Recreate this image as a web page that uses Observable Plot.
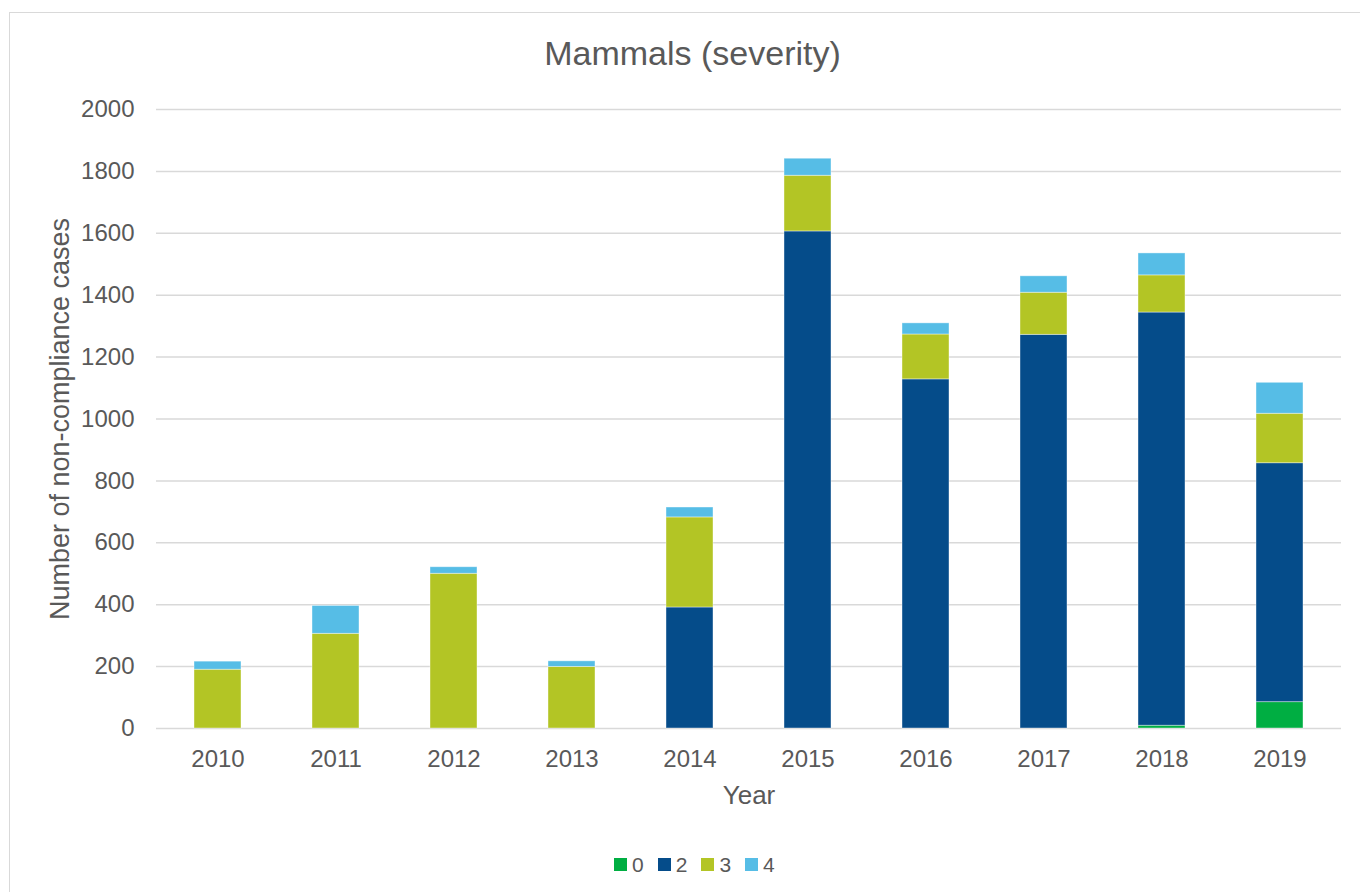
<!DOCTYPE html>
<html><head><meta charset="utf-8">
<script src="https://cdn.jsdelivr.net/npm/d3@7"></script>
<script src="https://cdn.jsdelivr.net/npm/@observablehq/plot@0.6"></script>
<style>
body{margin:0;background:#fff;font-family:"Liberation Sans",Arial,sans-serif;}
#wrap{position:relative;width:1360px;height:892px;overflow:hidden;background:#fff;}
#frame{position:absolute;left:9px;top:12px;width:1400px;height:900px;border:1.5px solid #d9d9d9;box-sizing:border-box;}
#title{position:absolute;left:0;top:36px;width:1385px;text-align:center;font-size:34px;line-height:1;color:#595959;}
#chart{position:absolute;left:0;top:80px;}
#legend{position:absolute;left:614px;top:854px;display:flex;font-size:21px;line-height:1;color:#595959;}
.item{display:flex;align-items:center;margin-right:14px;}
.sw{width:13px;height:13px;margin-right:5px;}
</style></head><body>
<div id="wrap"><div id="frame"></div><div id="title"></div><div id="chart"></div><div id="legend"></div></div>
<script>
const titleText = "Mammals (severity)";
const xLabel = "Year";
const yLabel = "Number of non-compliance cases";
const years = ["2010","2011","2012","2013","2014","2015","2016","2017","2018","2019"];
const severities = ["0","2","3","4"];
const colors = ["#00ae42","#054c8a","#b3c525","#56bde6"];
const sev0 = [0,0,0,0,0,0,0,0,9,85];
const sev2 = [0,0,0,0,391,1606,1128,1272,1335,772];
const sev3 = [190,306,500,199,291,180,145,136,120,160];
const sev4 = [26,90,21,18,32,55,36,53,71,100];
const yTicks = [0,200,400,600,800,1000,1200,1400,1600,1800,2000];

const seriesValues = {"0": sev0, "2": sev2, "3": sev3, "4": sev4};
const data = [];
severities.forEach(s => {
  seriesValues[s].forEach((v, i) => {
    if (v > 0) data.push({year: years[i], severity: s, value: v});
  });
});

document.getElementById("title").textContent = titleText;

const font = '"Liberation Sans", Arial, sans-serif';
const chart = Plot.plot({
  width: 1360, height: 750,
  marginTop: 29, marginBottom: 102, marginLeft: 156, marginRight: 19,
  style: {fontFamily: font, fontSize: "24px", color: "#595959", background: "transparent", overflow: "visible"},
  x: {type: "band", domain: years, paddingInner: 0.6, paddingOuter: 0.3},
  y: {domain: [0, 2000]},
  color: {domain: severities, range: colors},
  marks: [
    Plot.gridY(yTicks, {stroke: "#d9d9d9", strokeOpacity: 1, strokeWidth: 1.5}),
    Plot.barY(data, {x: "year", y: "value", fill: "severity", order: severities, stroke: "#ffffff", strokeWidth: 0.8, strokeOpacity: 0.5}),
    Plot.axisX({tickSize: 0, tickPadding: 21, label: null, fontSize: 24, fill: "#595959"}),
    Plot.axisY(yTicks, {tickSize: 0, tickPadding: 22, label: null, fontSize: 24, fill: "#595959", tickFormat: d => String(d)}),
    Plot.text([yLabel], {text: d => d, frameAnchor: "left", rotate: -90, dx: -96.6, fontSize: 27, fill: "#595959", lineAnchor: "middle", textAnchor: "middle"}),
    Plot.text([xLabel], {text: d => d, frameAnchor: "bottom", dy: 66.7, fontSize: 26, fill: "#595959", lineAnchor: "middle", textAnchor: "middle"})
  ]
});
document.getElementById("chart").appendChild(chart);

const legend = document.getElementById("legend");
severities.forEach((s, i) => {
  const item = document.createElement("div");
  item.className = "item";
  const sw = document.createElement("div");
  sw.className = "sw";
  sw.style.background = colors[i];
  const t = document.createElement("span");
  t.textContent = s;
  item.appendChild(sw);
  item.appendChild(t);
  legend.appendChild(item);
});
</script>
</body></html>
